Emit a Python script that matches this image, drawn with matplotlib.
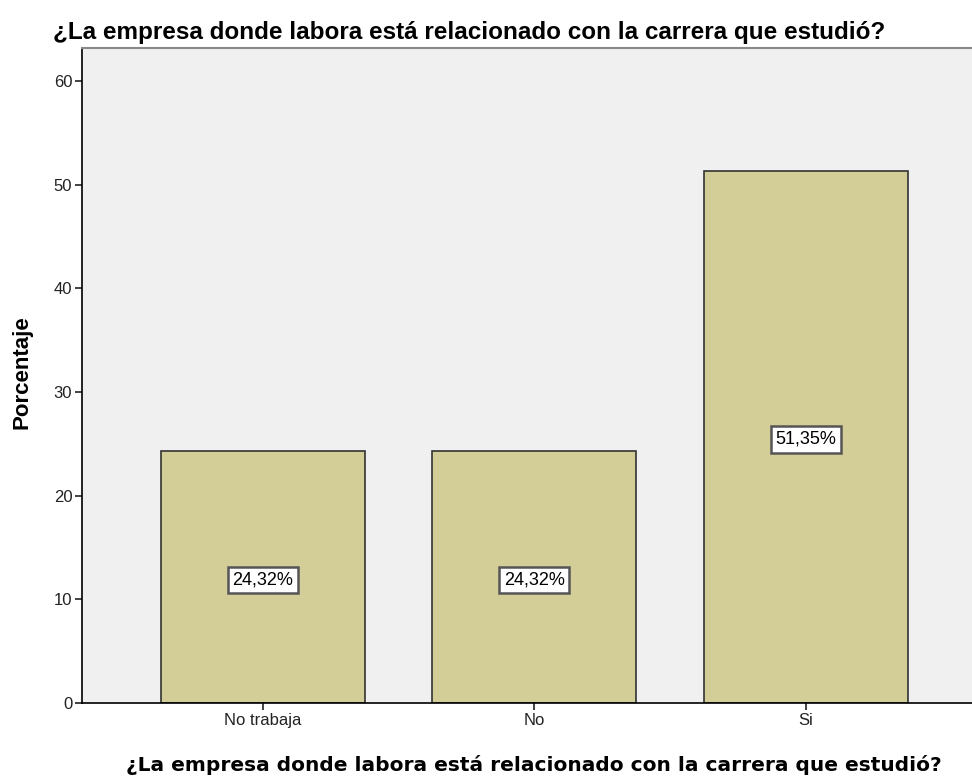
import numpy as np
import matplotlib.pyplot as plt

# data
categorias = ['No trabaja', 'No', 'Si']
porcentajes = [24.32, 24.32, 51.35]
etiquetas = ['24,32%', '24,32%', '51,35%']

titulo = '¿La empresa donde labora está relacionado con la carrera que estudió?'

plt.rcParams['font.family'] = ['Liberation Sans', 'DejaVu Sans']

fig = plt.figure(figsize=(9.72, 7.76), dpi=100)
ax = fig.add_axes([82/972, 1 - 703/776, 1 - 82/972 + 0.01, (703 - 48)/776])
ax.set_facecolor('#f0f0f0')

x = np.arange(len(categorias))
ax.bar(x, porcentajes, width=0.75, color='#d3ce98', edgecolor='#333333', linewidth=1.2, zorder=2)

for xi, v, lab in zip(x, porcentajes, etiquetas):
    ax.text(xi, v / 2 - 0.25, lab, ha='center', va='center', fontsize=13, zorder=3,
            bbox=dict(boxstyle='square,pad=0.25', facecolor='white', edgecolor='#555555', linewidth=1.8))

ax.set_xlim(-0.666, 2.618 + 0.03)
ax.set_ylim(0, 63.2)
ax.set_yticks([0, 10, 20, 30, 40, 50, 60])
ax.set_xticks(x)
ax.set_xticklabels(categorias)
ax.tick_params(axis='both', direction='out', length=5, width=1.2, labelsize=12, colors='#222222', pad=2)

ax.spines['left'].set_linewidth(1.2)
ax.spines['bottom'].set_linewidth(1.2)
ax.spines['top'].set_color('#888888')
ax.spines['top'].set_linewidth(1.5)
ax.spines['right'].set_visible(False)

fig.text(53/972, 1 - 33/776, titulo, fontsize=17.5, fontweight='bold', ha='left', va='center')
fig.text(534/972, 1 - 765/776, titulo, fontsize=14.5, fontweight='bold', ha='center', va='center',
         family='DejaVu Sans')
fig.text(22/972, 1 - 372/776, 'Porcentaje', fontsize=16, fontweight='bold', rotation=90,
         ha='center', va='center')

plt.savefig('out.png', dpi=100)
